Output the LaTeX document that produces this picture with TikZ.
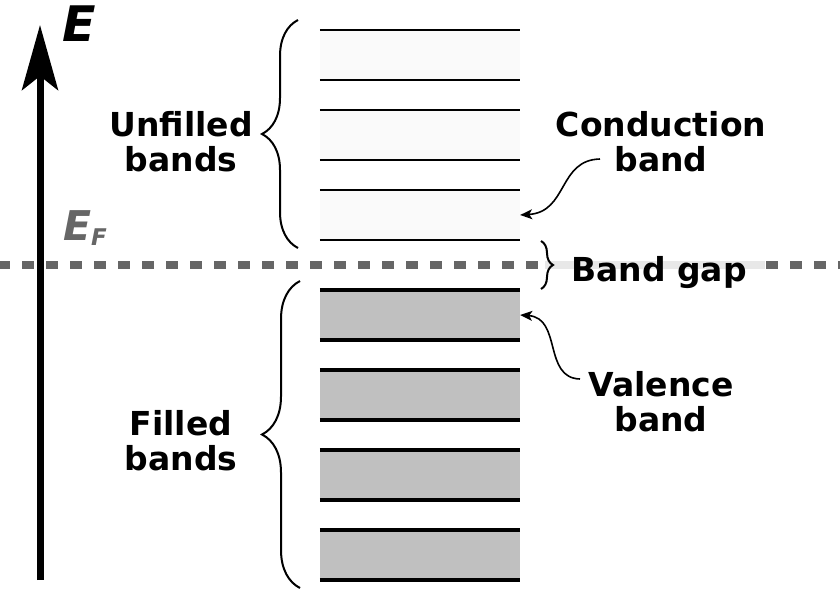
\documentclass[tikz,border=0pt]{standalone}
\usepackage{fontspec}
\setmainfont{DejaVu Sans}
\usetikzlibrary{arrows.meta, decorations.pathreplacing, positioning}
\definecolor{fermigray}{HTML}{666666}
\definecolor{bandlight}{HTML}{FAFAFA}
\definecolor{bandgray}{HTML}{C0C0C0}
\definecolor{stripgray}{HTML}{E8E8E8}

\begin{document}
\begin{tikzpicture}[x=1pt, y=-1pt,
    band/.style={rectangle, inner sep=0pt, minimum width=200pt, minimum height=50pt},
    upper/.style={band, fill=bandlight},
    lower/.style={band, fill=bandgray},
    bandtext/.style={font=\fontsize{33}{35}\selectfont\bfseries, align=center, inner sep=0pt},
    pointer/.style={line width=1.6pt, -{Stealth[length=12pt, width=10pt, inset=3pt]}},
    bracket/.style={decorate, decoration={brace, amplitude=#1}, line width=2pt}]
    \useasboundingbox (0,0) rectangle (840,600);

    % bands
    \node[upper] (c1) at (420,55) {};
    \node[upper] (c2) at (420,135) {};
    \node[upper] (c3) at (420,215) {};
    \node[lower] (v1) at (420,315) {};
    \node[lower] (v2) at (420,395) {};
    \node[lower] (v3) at (420,475) {};
    \node[lower] (v4) at (420,555) {};
    \foreach \b in {c1,c2,c3}
      \draw[line width=2pt] (\b.north west) -- (\b.north east)
        (\b.south west) -- (\b.south east);
    \foreach \b in {v1,v2,v3,v4}
      \draw[line width=4pt] (\b.north west) -- (\b.north east)
        (\b.south west) -- (\b.south east);

    % Fermi level
    \coordinate (fermileft) at (0,265);
    \coordinate (fermiright) at (840,265);
    \draw[fermigray, line width=8pt, dash pattern=on 12pt off 12pt, dash phase=2pt]
      (fermileft) -- (fermiright);
    \draw[stripgray, line width=8pt] (545,265) -- (765,265);

    % energy axis
    \coordinate (axisbottom) at (40,580);
    \coordinate (axistop) at (40,25);
    \draw[line width=7pt, -{Stealth[length=65pt, width=36pt, inset=14pt]}]
      (axisbottom) -- (axistop);
    \node[anchor=base west, inner sep=0pt, font=\fontsize{49}{49}\selectfont\bfseries\itshape]
      (E) at (62,41) {E};
    \node[anchor=base west, inner sep=0pt, text=fermigray,
      font=\fontsize{41}{41}\selectfont\bfseries\itshape]
      (EF) at (63,240) {E{\fontsize{23}{23}\selectfont\raisebox{-5pt}{F}}};

    % braces
    \draw[bracket=36pt] (298,248) -- (298,20);
    \draw[bracket=38pt] (300,588) -- (300,281);
    \draw[bracket=12pt] (541,241) -- (541,289);

    % labels
    \node[bandtext] (unfilled) at (181,142) {Unfilled\\bands};
    \node[bandtext] (filled) at (181,441) {Filled\\bands};
    \node[bandtext] (cond) at (661,142) {Conduction\\band};
    \node[bandtext] (val) at (661,402) {Valence\\band};
    \node[bandtext, anchor=base west] (gap) at (571,281) {Band gap};

    \coordinate (condtail) at (600,159);
    \coordinate (valtail) at (580,379);
    \draw[pointer] (condtail) .. controls (558,160) and (568,212) .. (c3.east);
    \draw[pointer] (valtail) .. controls (543,378) and (562,318) .. (v1.east);
\end{tikzpicture}
\end{document}
